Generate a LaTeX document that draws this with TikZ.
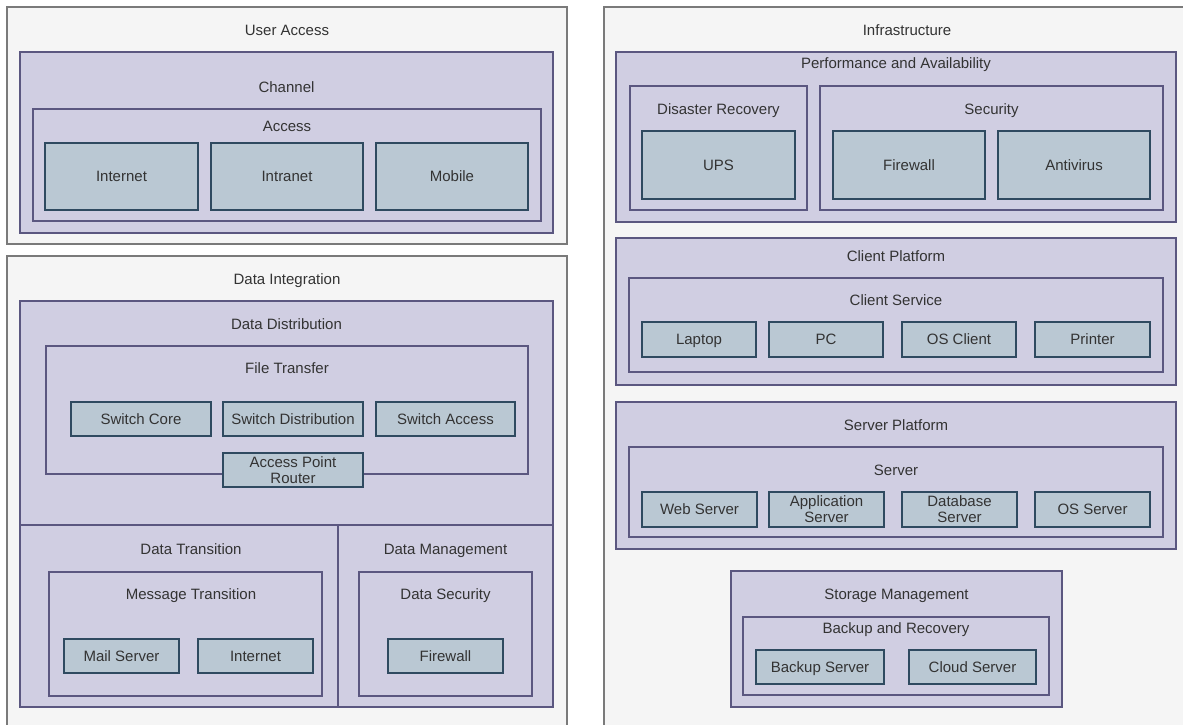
\documentclass[tikz,border=0pt]{standalone}
\usepackage{fontspec}
\setmainfont{Liberation Sans}
\usetikzlibrary{fit}
\definecolor{panelfill}{HTML}{F5F5F5}
\definecolor{panelline}{HTML}{7A7A7A}
\definecolor{groupfill}{HTML}{D0CEE2}
\definecolor{groupline}{HTML}{5B5780}
\definecolor{leaffill}{HTML}{BAC8D3}
\definecolor{leafline}{HTML}{2F4A60}
\definecolor{txt}{HTML}{333333}
\begin{document}
\begin{tikzpicture}[x=1pt,y=-1pt,
  panel/.style={draw=panelline, fill=panelfill, line width=1.2pt, inner sep=0pt},
  group/.style={draw=groupline, fill=groupfill, line width=1.1pt, inner sep=0pt},
  leaf/.style={draw=leafline, fill=leaffill, line width=1.1pt, inner sep=0pt},
  lt/.style={text=txt, font=\fontsize{15}{16}\selectfont, inner sep=0pt, text height=10.8pt, text depth=0pt},
  lt2/.style={text=txt, font=\fontsize{15}{16}\selectfont, inner sep=0pt, align=center},
  lbl/.style={text=txt, font=\fontsize{15}{18}\selectfont, inner sep=0pt, text height=10.8pt, text depth=0pt}]
\useasboundingbox (0,0) rectangle (1183,725);
\clip (0,0) rectangle (1183,725);
\fill[white] (0,0) rectangle (1183,725);

% ---------- User Access ----------
\node[panel, fit={(7,7) (567,244)}] (ua) {};
\node[lbl] (uaL) at (287,30) {User Access};
\node[group, fit={(20,52) (553,233)}] (ch) {};
\node[lbl] (chL) at (286.5,87) {Channel};
\node[group, fit={(33,109) (541,221)}] (acc) {};
\node[lbl] (accL) at (287,126) {Access};
\node[leaf, fit={(45,143) (198,210)}, label={[lt]center:Internet}] (inet) {};
\node[leaf, fit={(211,143) (363,210)}, label={[lt]center:Intranet}] (intra) {};
\node[leaf, fit={(376,143) (528,210)}, label={[lt]center:Mobile}] (mob) {};

% ---------- Data Integration ----------
\node[panel, fit={(7,256) (567,740)}] (di) {};
\node[lbl] (diL) at (287,279) {Data Integration};
\node[group, fit={(20,301) (553,525)}] (dd) {};
\node[lbl] (ddL) at (286.5,324) {Data Distribution};
\node[group, fit={(46,346) (528,474)}] (ft) {};
\node[lbl] (ftL) at (287,368) {File Transfer};
\node[leaf, fit={(71,402) (211,436)}, label={[lt]center:Switch Core}] (sc) {};
\node[leaf, fit={(223,402) (363,436)}, label={[lt]center:Switch Distribution}] (sd) {};
\node[leaf, fit={(376,402) (515,436)}, label={[lt]center:Switch Access}] (sa) {};
\node[leaf, fit={(223,453) (363,487)}, label={[lt2]center:Access Point\\Router}] (apr) {};

\node[group, fit={(20,525) (338,707)}] (dt) {};
\node[lbl] (dtL) at (191,549) {Data Transition};
\node[group, fit={(49,572) (322,696)}] (mt) {};
\node[lbl] (mtL) at (191,594) {Message Transition};
\node[leaf, fit={(64,639) (179,673)}, label={[lt]center:Mail Server}] (mail) {};
\node[leaf, fit={(198,639) (313,673)}, label={[lt]center:Internet}] (inet2) {};

\node[group, fit={(338,525) (553,707)}] (dm) {};
\node[lbl] (dmL) at (445.5,549) {Data Management};
\node[group, fit={(359,572) (532,696)}] (ds) {};
\node[lbl] (dsL) at (445.5,594) {Data Security};
\node[leaf, fit={(388,639) (503,673)}, label={[lt]center:Firewall}] (fw1) {};

% ---------- Infrastructure ----------
\node[panel, fit={(604,7) (1210,740)}] (inf) {};
\node[lbl] (infL) at (907,30) {Infrastructure};
\node[group, fit={(616,52) (1176,222)}] (pa) {};
\node[lbl] (paL) at (896,63) {Performance and Availability};
\node[group, fit={(630,86) (807,210)}] (dr) {};
\node[lbl] (drL) at (718.5,109) {Disaster Recovery};
\node[leaf, fit={(642,131) (795,199)}, label={[lt]center:UPS}] (ups) {};
\node[group, fit={(820,86) (1163,210)}] (sec) {};
\node[lbl] (secL) at (991.5,109) {Security};
\node[leaf, fit={(833,131) (985,199)}, label={[lt]center:Firewall}] (fw2) {};
\node[leaf, fit={(998,131) (1150,199)}, label={[lt]center:Antivirus}] (av) {};

\node[group, fit={(616,238) (1176,385)}] (cp) {};
\node[lbl] (cpL) at (896,256) {Client Platform};
\node[group, fit={(629,278) (1163,372)}] (cs) {};
\node[lbl] (csL) at (896,300) {Client Service};
\node[leaf, fit={(642,322) (756,357)}, label={[lt]center:Laptop}] (lap) {};
\node[leaf, fit={(769,322) (883,357)}, label={[lt]center:PC}] (pc) {};
\node[leaf, fit={(902,322) (1016,357)}, label={[lt]center:OS Client}] (osc) {};
\node[leaf, fit={(1035,322) (1150,357)}, label={[lt]center:Printer}] (prn) {};

\node[group, fit={(616,402) (1176,549)}] (sp) {};
\node[lbl] (spL) at (896,425) {Server Platform};
\node[group, fit={(629,447) (1163,537)}] (srv) {};
\node[lbl] (srvL) at (896,470) {Server};
\node[leaf, fit={(642,492) (757,527)}, label={[lt]center:Web Server}] (web) {};
\node[leaf, fit={(769,492) (884,527)}, label={[lt2]center:Application\\Server}] (app) {};
\node[leaf, fit={(902,492) (1017,527)}, label={[lt2]center:Database\\Server}] (db) {};
\node[leaf, fit={(1035,492) (1150,527)}, label={[lt]center:OS Server}] (oss) {};

\node[group, fit={(731,571) (1062,707)}] (sm) {};
\node[lbl] (smL) at (896.5,594) {Storage Management};
\node[group, fit={(743,617) (1049,695)}] (br) {};
\node[lbl] (brL) at (896,628) {Backup and Recovery};
\node[leaf, fit={(756,650) (884,684)}, label={[lt]center:Backup Server}] (bs) {};
\node[leaf, fit={(909,650) (1036,684)}, label={[lt]center:Cloud Server}] (cls) {};
\end{tikzpicture}
\end{document}
